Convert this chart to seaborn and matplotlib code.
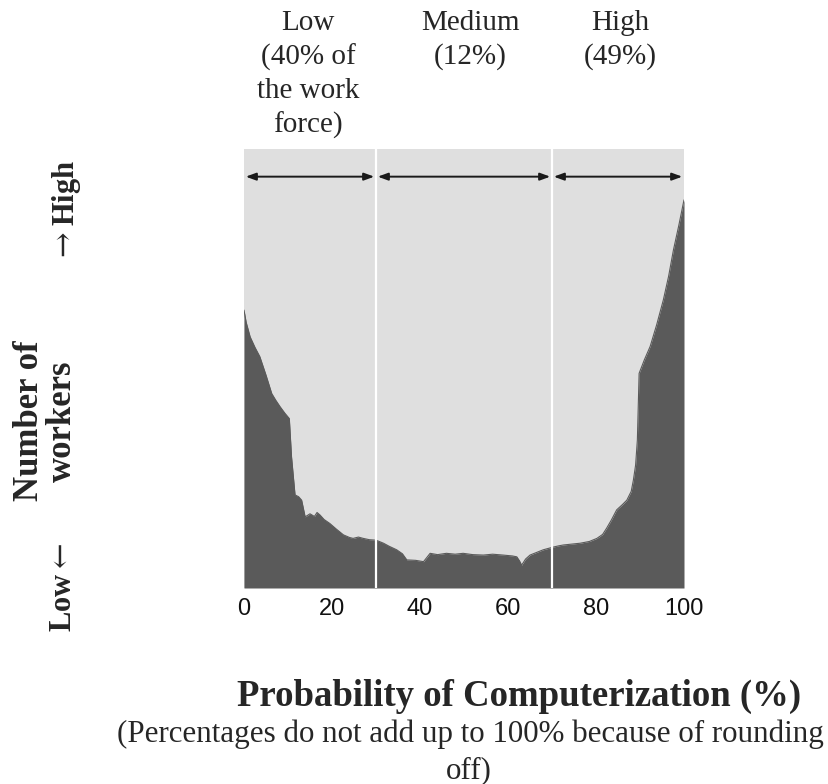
import matplotlib
matplotlib.use("Agg")
import matplotlib.pyplot as plt
import seaborn as sb
import pandas as pd

# probability of computerization (%) vs. relative number of workers (0-100 scale)
prob = [0.0, 0.5, 1.4, 2.5, 3.6, 5.0, 6.3, 7.2, 8.2, 9.3, 10.3, 10.8, 11.6, 12.4, 13.1,
        13.9, 15.0, 16.0, 16.6, 17.3, 18.2, 19.5, 21.0, 22.6, 24.0, 24.8, 26.0, 27.1,
        28.5, 30.0, 31.7, 33.0, 34.7, 36.0, 37.0, 39.0, 40.8, 42.3, 44.0, 46.0, 48.0,
        49.8, 52.0, 54.4, 56.5, 58.9, 61.0, 62.0, 62.6, 63.1, 64.0, 65.0, 66.5, 68.0,
        70.2, 71.5, 72.6, 74.5, 76.4, 78.5, 80.2, 81.5, 82.4, 83.5, 84.7, 86.0, 87.0,
        88.0, 88.5, 89.0, 89.4, 89.8, 91.0, 92.3, 93.8, 95.3, 96.5, 97.6, 98.8, 100.0]
workers = [63.3, 60.5, 57.2, 54.8, 52.7, 48.5, 44.3, 42.8, 41.3, 39.8, 38.6, 29.9, 21.2,
           20.8, 20.0, 16.2, 16.9, 16.3, 17.2, 16.6, 15.6, 14.7, 13.4, 12.1, 11.5, 11.3,
           11.6, 11.3, 11.0, 10.9, 10.2, 9.5, 8.7, 7.8, 6.4, 6.3, 6.0, 7.9, 7.6, 7.9, 7.7,
           7.9, 7.6, 7.5, 7.7, 7.5, 7.3, 7.1, 6.2, 5.2, 6.6, 7.5, 8.1, 8.7, 9.3, 9.6, 9.8,
           10.0, 10.2, 10.6, 11.3, 12.2, 13.6, 15.5, 17.8, 19.0, 20.0, 22.0, 24.6, 28.0,
           33.7, 48.9, 52.0, 55.0, 60.0, 65.6, 71.0, 77.0, 82.5, 88.4]

bands = ["Low\n(40% of\nthe work\nforce)", "Medium\n(12%)", "High\n(49%)"]
band_edges = [0, 30, 70, 100]
ticks = [0, 20, 40, 60, 80, 100]

df = pd.DataFrame({"prob": prob, "workers": workers})

sb.set_style("white")
plt.rcParams["mathtext.fontset"] = "dejavuserif"
serif = ["Liberation Serif", "DejaVu Serif"]

W, H = 829, 784
fig = plt.figure(figsize=(W / 100, H / 100), dpi=100)
ax = fig.add_axes([244 / W, 1 - 588 / H, 440 / W, 439 / H])
ax.set_facecolor("#dfdfdf")

ax.fill_between(df["prob"], 0, df["workers"], color="#5a5a5a", linewidth=0)
sb.lineplot(data=df, x="prob", y="workers", ax=ax, color="#5a5a5a", linewidth=0.8)

for edge in band_edges[1:-1]:
    ax.axvline(edge, color="white", linewidth=1.6)

for lo, hi in zip(band_edges[:-1], band_edges[1:]):
    ax.annotate("", xy=(hi - 0.4, 93.7), xytext=(lo + 0.4, 93.7),
                arrowprops=dict(arrowstyle="<|-|>,head_length=0.6,head_width=0.22",
                                color="#1a1a1a", lw=1.4, shrinkA=0, shrinkB=0))

ax.set_xlim(0, 100)
ax.set_ylim(0, 100)
ax.set_xticks(ticks)
ax.set_xticklabels([str(t) for t in ticks], family="Liberation Sans", fontsize=17,
                   color="#111111")
ax.set_yticks([])
ax.tick_params(axis="x", length=0, pad=7)
ax.set_xlabel("")
ax.set_ylabel("")
for s in ax.spines.values():
    s.set_visible(False)

centers = [308, 470, 620]
for label, cx in zip(bands, centers):
    fig.text(cx / W, 1 - 10 / H, label, ha="center", va="top", family=serif,
             fontsize=21, linespacing=1.36)

fig.text(67 / W, 1 - 211 / H, r"$\rightarrow$High", rotation=90, ha="center",
         va="center", family=serif, fontsize=22, fontweight="bold")
fig.text(46 / W, 1 - 421 / H, "Number of\nworkers", rotation=90, ha="center",
         va="center", family=serif, fontsize=25, fontweight="bold", linespacing=1.0)
fig.text(64 / W, 1 - 587 / H, r"Low$\leftarrow$", rotation=90, ha="center",
         va="center", family=serif, fontsize=22, fontweight="bold")

fig.text(519 / W, 1 - 706 / H, "Probability of Computerization (%)", ha="center",
         va="baseline", family=serif, fontsize=26.5, fontweight="bold")
fig.text(470 / W, 1 - 742 / H,
         "(Percentages do not add up to 100% because of rounding", ha="center",
         va="baseline", family=serif, fontsize=22.3)
fig.text(469 / W, 1 - 778 / H, "off)", ha="center", va="baseline", family=serif,
         fontsize=22.3)

fig.savefig("out.png", dpi=100)
plt.close(fig)
